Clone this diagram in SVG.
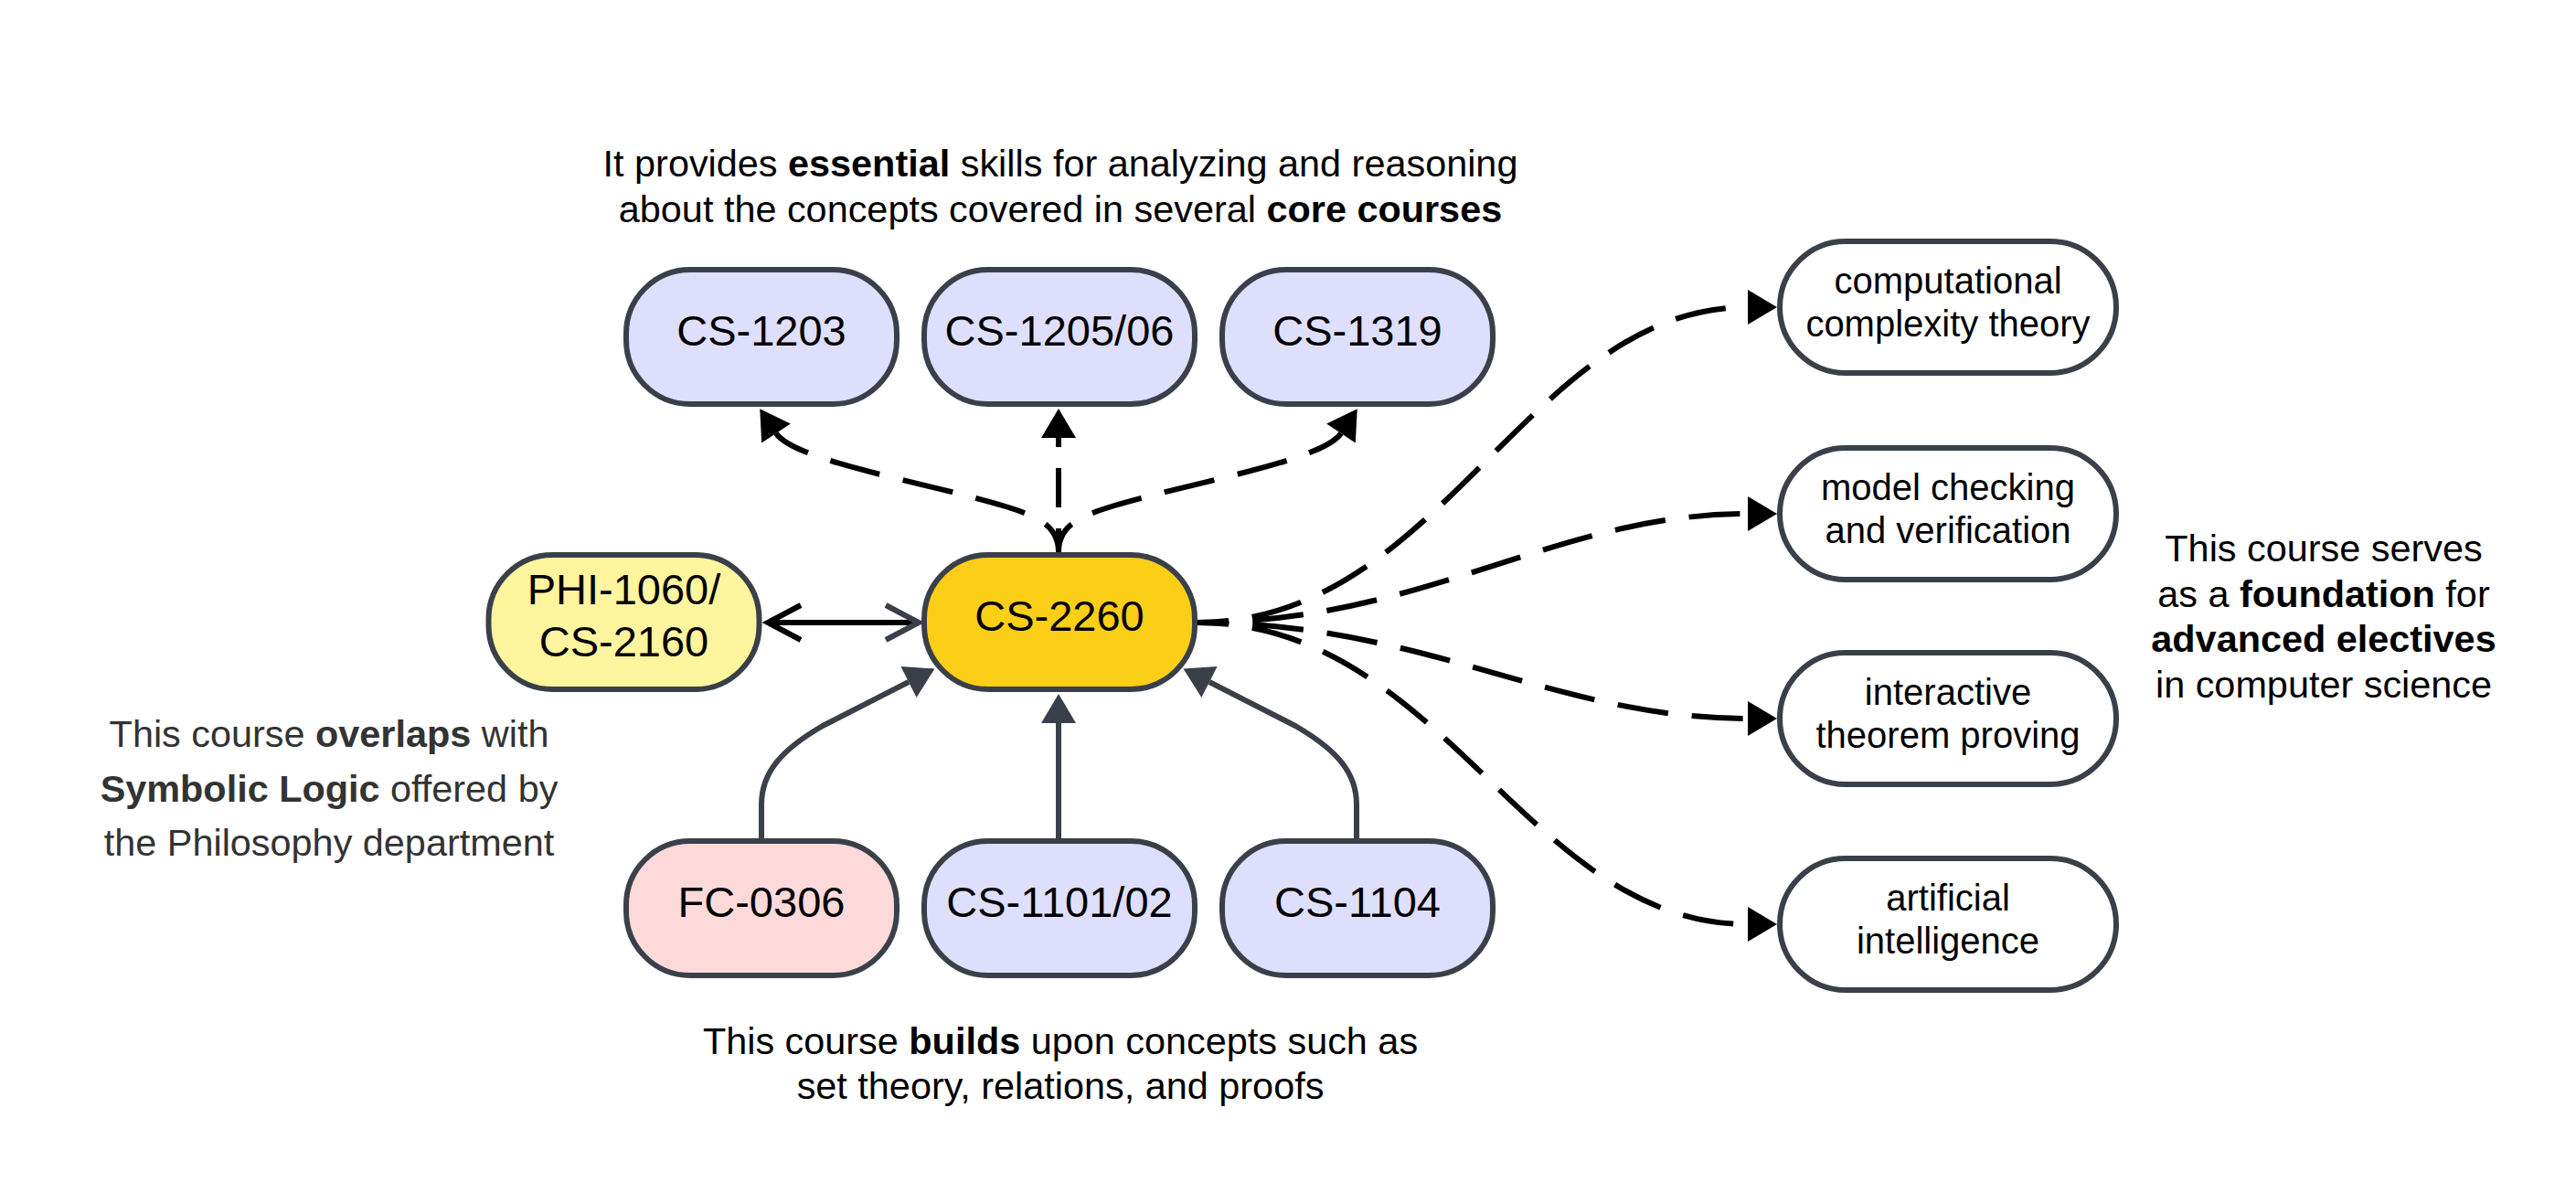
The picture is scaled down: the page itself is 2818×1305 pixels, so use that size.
<svg xmlns="http://www.w3.org/2000/svg" width="2818" height="1305" viewBox="0 0 2818 1305">
<style>
  text { font-family: "Liberation Sans", Arial, sans-serif; text-anchor: middle; fill: #000; }
  .lbl { font-size: 47px; }
  .lbl2 { font-size: 40px; }
  .note { font-size: 41.4px; }
  .gray { fill: #333; }
  .b { font-weight: bold; }
  .node { stroke: #3a4049; stroke-width: 6; }
  .lav { fill: #dedffd; }
  .pink { fill: #fdd9d9; }
  .ylw { fill: #fff59e; }
  .gold { fill: #fbce17; }
  .wht { fill: #ffffff; }
  .dash { fill: none; stroke: #000; stroke-width: 6; stroke-dasharray: 56 26; stroke-dashoffset: 21; marker-end: url(#arrowBlack); }
  .solid { fill: none; stroke: #3a4049; stroke-width: 6; marker-end: url(#arrowGray); }
</style>
<defs>
  <marker id="arrowBlack" viewBox="0 -19 32 38" refX="0" refY="0" markerWidth="32" markerHeight="38" markerUnits="userSpaceOnUse" orient="auto" overflow="visible">
    <path d="M0,-19 L32,0 L0,19 Z" fill="#000"/>
  </marker>
  <marker id="arrowGray" viewBox="0 -19 32 38" refX="0" refY="0" markerWidth="32" markerHeight="38" markerUnits="userSpaceOnUse" orient="auto" overflow="visible">
    <path d="M0,-19 L32,0 L0,19 Z" fill="#3a4049"/>
  </marker>
  <marker id="chevBlack" viewBox="-40 -24 44 48" refX="0" refY="0" markerWidth="44" markerHeight="48" markerUnits="userSpaceOnUse" orient="auto-start-reverse" overflow="visible">
    <path d="M-36,-19 L0,0 L-36,19" fill="none" stroke="#000" stroke-width="6"/>
  </marker>
  <marker id="chevGray" viewBox="-40 -24 44 48" refX="0" refY="0" markerWidth="44" markerHeight="48" markerUnits="userSpaceOnUse" orient="auto" overflow="visible">
    <path d="M-36,-19 L0,0 L-36,19" fill="none" stroke="#3a4049" stroke-width="6"/>
  </marker>
</defs>
<rect width="2818" height="1305" fill="#ffffff"/>

<g id="connectors">
  <!-- overlap -->
  <path d="M840,681 L1005,681" fill="none" stroke="#000" stroke-width="6" marker-start="url(#chevBlack)" marker-end="url(#chevGray)"/>
  <!-- to core courses -->
  <path class="dash" d="M1158,604 C1158,575 1135,565 1100,554 C1010,527 869,504 849,474"/>
  <path class="dash" d="M1158,604 L1158,479" style="stroke-dasharray:43 23;stroke-dashoffset:17"/>
  <path class="dash" d="M1158,604 C1158,575 1181,565 1216,554 C1306,527 1447,504 1467,474"/>
  <!-- prerequisites -->
  <path class="solid" d="M833,917 L833,880 C833,845 855,820 900,794 L994,746"/>
  <path class="solid" d="M1158,917 L1158,791"/>
  <path class="solid" d="M1484,917 L1484,880 C1484,845 1462,820 1417,794 L1323,746"/>
  <!-- electives -->
  <path class="dash" d="M1309,681 C1580,681 1670,336 1912,336"/>
  <path class="dash" d="M1309,681 C1560,681 1700,562 1912,562"/>
  <path class="dash" d="M1309,681 C1560,681 1700,786 1912,786"/>
  <path class="dash" d="M1309,681 C1580,681 1670,1011 1912,1011"/>
</g>

<g id="node-cs1203"><rect class="node lav" x="685" y="295" width="296" height="147" rx="70"/><text class="lbl" x="833" y="378">CS-1203</text></g>
<g id="node-cs1205"><rect class="node lav" x="1011" y="295" width="296" height="147" rx="70"/><text class="lbl" x="1159" y="378">CS-1205/06</text></g>
<g id="node-cs1319"><rect class="node lav" x="1337" y="295" width="296" height="147" rx="70"/><text class="lbl" x="1485" y="378">CS-1319</text></g>

<g id="node-phi1060"><rect class="node ylw" x="534.5" y="607" width="296" height="147" rx="70"/><text class="lbl" x="682.5" y="661">PHI-1060/</text><text class="lbl" x="682.5" y="718">CS-2160</text></g>
<g id="node-cs2260"><rect class="node gold" x="1011" y="607" width="296" height="147" rx="70"/><text class="lbl" x="1159" y="690">CS-2260</text></g>

<g id="node-fc0306"><rect class="node pink" x="685" y="920" width="296" height="147" rx="70"/><text class="lbl" x="833" y="1003">FC-0306</text></g>
<g id="node-cs1101"><rect class="node lav" x="1011" y="920" width="296" height="147" rx="70"/><text class="lbl" x="1159" y="1003">CS-1101/02</text></g>
<g id="node-cs1104"><rect class="node lav" x="1337" y="920" width="296" height="147" rx="70"/><text class="lbl" x="1485" y="1003">CS-1104</text></g>

<g id="node-complexity"><rect class="node wht" x="1947" y="264" width="368" height="144" rx="72"/><text class="lbl2" x="2131" y="321">computational</text><text class="lbl2" x="2131" y="368">complexity theory</text></g>
<g id="node-modelchecking"><rect class="node wht" x="1947" y="490" width="368" height="144" rx="72"/><text class="lbl2" x="2131" y="547">model checking</text><text class="lbl2" x="2131" y="594">and verification</text></g>
<g id="node-itp"><rect class="node wht" x="1947" y="714" width="368" height="144" rx="72"/><text class="lbl2" x="2131" y="771">interactive</text><text class="lbl2" x="2131" y="818">theorem proving</text></g>
<g id="node-ai"><rect class="node wht" x="1947" y="939" width="368" height="144" rx="72"/><text class="lbl2" x="2131" y="996">artificial</text><text class="lbl2" x="2131" y="1043">intelligence</text></g>

<g id="annotations">
  <text class="note" x="1160" y="193">It provides <tspan class="b">essential</tspan> skills for analyzing and reasoning</text>
  <text class="note" x="1160" y="243">about the concepts covered in several <tspan class="b">core courses</tspan></text>
  <text class="note gray" x="360" y="817">This course <tspan class="b">overlaps</tspan> with</text>
  <text class="note gray" x="360" y="877"><tspan class="b">Symbolic Logic</tspan> offered by</text>
  <text class="note gray" x="360" y="936">the Philosophy department</text>
  <text class="note" x="2542" y="614">This course serves</text>
  <text class="note" x="2542" y="664">as a <tspan class="b">foundation</tspan> for</text>
  <text class="note b" x="2542" y="713">advanced electives</text>
  <text class="note" x="2542" y="763">in computer science</text>
  <text class="note" x="1160" y="1153">This course <tspan class="b">builds</tspan> upon concepts such as</text>
  <text class="note" x="1160" y="1202">set theory, relations, and proofs</text>
</g>
</svg>
